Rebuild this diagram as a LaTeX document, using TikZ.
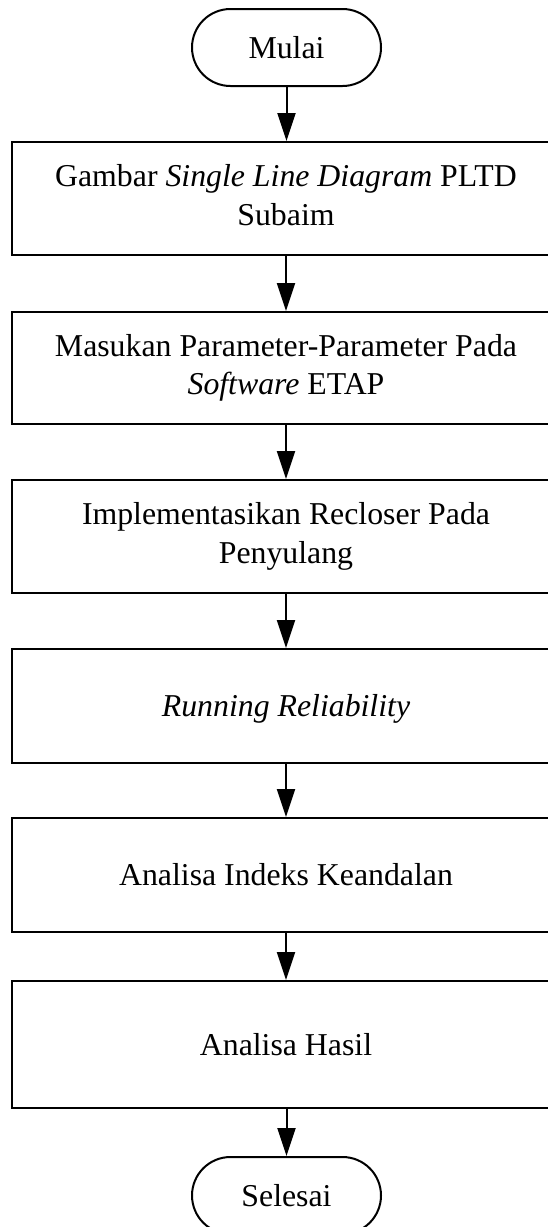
\documentclass[tikz,border=0pt]{standalone}
\usepackage{fontspec}
\setmainfont{Liberation Serif}
\usetikzlibrary{arrows.meta,shapes.misc}

% two centred lines with a fixed baseline distance
\newcommand\twolines[2]{\begin{tabular}{@{}c@{}}#1\\#2\end{tabular}}

\tikzset{
  flowline/.style={line width=2pt, -{Triangle[width=18pt,length=28pt]}},
  stepbox/.style={draw, line width=2pt, rectangle, minimum width=548pt,
    inner sep=0pt, font=\fontsize{31.8pt}{38.4pt}\selectfont},
  onerow/.style={text height=21pt, text depth=0pt},
  terminal/.style={draw, line width=2pt, rounded rectangle,
    minimum width=189pt, minimum height=77pt, inner sep=0pt,
    text height=21pt, text depth=0pt,
    font=\fontsize{31.8pt}{38.4pt}\selectfont},
}

\begin{document}
\begin{tikzpicture}[x=1pt, y=-1pt]
  \useasboundingbox (0,0) rectangle (548,1227);
  \clip (0,0) rectangle (548,1227);

  \node[terminal] (mulai) at (286.5,47.5) {Mulai};
  \node[stepbox, minimum height=113pt] (sld) at (286,198.5)
    {\twolines{Gambar \textit{Single Line Diagram} PLTD}{Subaim}};
  \node[stepbox, minimum height=112pt] (param) at (286,368)
    {\twolines{Masukan Parameter-Parameter Pada}{\textit{Software} ETAP}};
  \node[stepbox, minimum height=113pt] (recl) at (286,536.5)
    {\twolines{Implementasikan Recloser Pada}{Penyulang}};
  \node[stepbox, onerow, minimum height=114pt] (run) at (286,706)
    {\textit{Running Reliability}};
  \node[stepbox, onerow, minimum height=114pt] (indeks) at (286,875)
    {Analisa Indeks Keandalan};
  \node[stepbox, onerow, minimum height=127pt] (hasil) at (286,1044.5)
    {Analisa Hasil};
  \node[terminal] (selesai) at (286.5,1195.5) {Selesai};

  \draw[flowline] (mulai.south)  -- (sld.north -| mulai.south);
  \draw[flowline] (sld.south)    -- (param.north);
  \draw[flowline] (param.south)  -- (recl.north);
  \draw[flowline] (recl.south)   -- (run.north);
  \draw[flowline] (run.south)    -- (indeks.north);
  \draw[flowline] (indeks.south) -- (hasil.north);
  \draw[flowline] (hasil.south -| selesai.north) -- (selesai.north);
\end{tikzpicture}
\end{document}
